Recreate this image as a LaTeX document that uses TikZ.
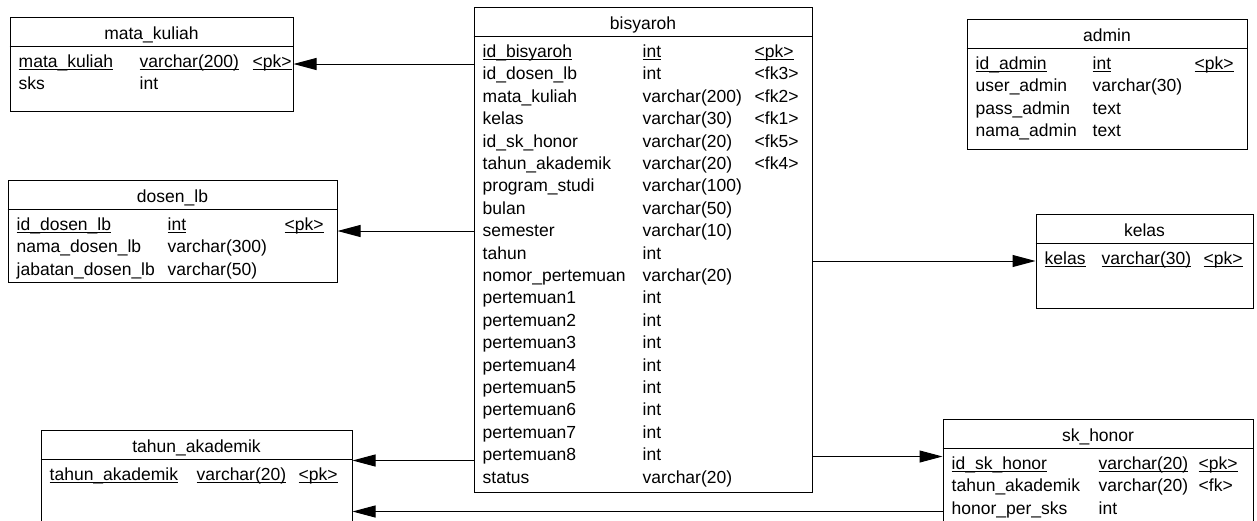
\documentclass[tikz,border=0pt]{standalone}
\usepackage{fontspec}
\setmainfont{Liberation Sans}
\usetikzlibrary{arrows.meta,positioning,calc}

\newcommand{\pkey}[1]{\underline{\smash{#1}}}

% one row per field: name / type / key
\newcommand{\dbrows}[4]{%
  \foreach \a/\b/\c [count=\i from 0] in {#4} {
    \node[field] (#1-\i-a) at ($(#1.north west)+(9,{51+22.4*\i})$) {\a};
    \node[field] (#1-\i-b) at ($(#1.north west)+(#2,{51+22.4*\i})$) {\b};
    \node[field] (#1-\i-c) at ($(#1.north west)+(#3,{51+22.4*\i})$) {\c};
  }}

\tikzset{
  tbox/.style={draw, rectangle, line width=1pt, inner sep=0pt},
  title/.style={font=\fontsize{17.5}{21}\selectfont, anchor=base, inner sep=0pt},
  field/.style={font=\fontsize{17.5}{21}\selectfont, anchor=base west, inner sep=0pt},
  fk/.style={line width=1pt, -{Triangle[length=23pt,width=12pt]}}
}

\begin{document}
\begin{tikzpicture}[x=1pt, y=-1pt]
  \clip (0,0) rectangle (1257,520);

  % tables
  \node[tbox, minimum width=283pt, minimum height=94pt] (mk) at (151.5,64) {};
  \node[tbox, minimum width=338pt, minimum height=485pt] (bis) at (643,249.5) {};
  \node[tbox, minimum width=280pt, minimum height=130pt] (adm) at (1107,84) {};
  \node[tbox, minimum width=329pt, minimum height=102pt] (dl) at (172.5,231) {};
  \node[tbox, minimum width=217pt, minimum height=94pt] (kel) at (1144.5,261) {};
  \node[tbox, minimum width=311pt, minimum height=100pt] (ta) at (196.5,480) {};
  \node[tbox, minimum width=310pt, minimum height=112pt] (sk) at (1098,475) {};

  % header lines
  \foreach \t in {mk,bis,adm,dl,kel,ta,sk}
    \draw[line width=1pt] ($(\t.north west)+(0,30)$) -- ($(\t.north east)+(0,30)$);

  % titles
  \node[title] (mk-t) at ($(mk.north)+(0,23)$) {mata\_kuliah};
  \node[title] (bis-t) at ($(bis.north)+(0,23)$) {bisyaroh};
  \node[title] (adm-t) at ($(adm.north)+(0,23)$) {admin};
  \node[title] (dl-t) at ($(dl.north)+(0,23)$) {dosen\_lb};
  \node[title] (kel-t) at ($(kel.north)+(0,23)$) {kelas};
  \node[title] (ta-t) at ($(ta.north)+(0,23)$) {tahun\_akademik};
  \node[title] (sk-t) at ($(sk.north)+(0,23)$) {sk\_honor};

  % fields
  \dbrows{mk}{130}{243}{\pkey{mata\_kuliah}/\pkey{varchar(200)}/\pkey{<pk>}, sks/int/}
  \dbrows{bis}{169}{281}{\pkey{id\_bisyaroh}/\pkey{int}/\pkey{<pk>},
    id\_dosen\_lb/int/<fk3>, mata\_kuliah/varchar(200)/<fk2>, kelas/varchar(30)/<fk1>,
    id\_sk\_honor/varchar(20)/<fk5>, tahun\_akademik/varchar(20)/<fk4>,
    program\_studi/varchar(100)/, bulan/varchar(50)/, semester/varchar(10)/, tahun/int/,
    nomor\_pertemuan/varchar(20)/, pertemuan1/int/, pertemuan2/int/, pertemuan3/int/,
    pertemuan4/int/, pertemuan5/int/, pertemuan6/int/, pertemuan7/int/, pertemuan8/int/,
    status/varchar(20)/}
  \dbrows{adm}{126}{228}{\pkey{id\_admin}/\pkey{int}/\pkey{<pk>}, user\_admin/varchar(30)/,
    pass\_admin/text/, nama\_admin/text/}
  \dbrows{dl}{160}{277}{\pkey{id\_dosen\_lb}/\pkey{int}/\pkey{<pk>}, nama\_dosen\_lb/varchar(300)/,
    jabatan\_dosen\_lb/varchar(50)/}
  \dbrows{kel}{66}{168}{\pkey{kelas}/\pkey{varchar(30)}/\pkey{<pk>}}
  \dbrows{ta}{156}{258}{\pkey{tahun\_akademik}/\pkey{varchar(20)}/\pkey{<pk>}}
  \dbrows{sk}{156}{256}{\pkey{id\_sk\_honor}/\pkey{varchar(20)}/\pkey{<pk>},
    tahun\_akademik/varchar(20)/<fk>, honor\_per\_sks/int/}

  % references
  \coordinate (ta-a) at ($(ta.north east)+(0,31)$);
  \coordinate (ta-b) at ($(ta.north east)+(0,82)$);
  \coordinate (sk-a) at ($(sk.north west)+(0,38)$);
  \draw[fk] (bis.west |- mk.east) -- (mk.east);
  \draw[fk] (bis.west |- dl.east) -- (dl.east);
  \draw[fk] (bis.east |- kel.west) -- (kel.west);
  \draw[fk] (bis.west |- ta-a) -- (ta-a);
  \draw[fk] (bis.east |- sk-a) -- (sk-a);
  \draw[fk] (sk.west |- ta-b) -- (ta-b);
\end{tikzpicture}
\end{document}
